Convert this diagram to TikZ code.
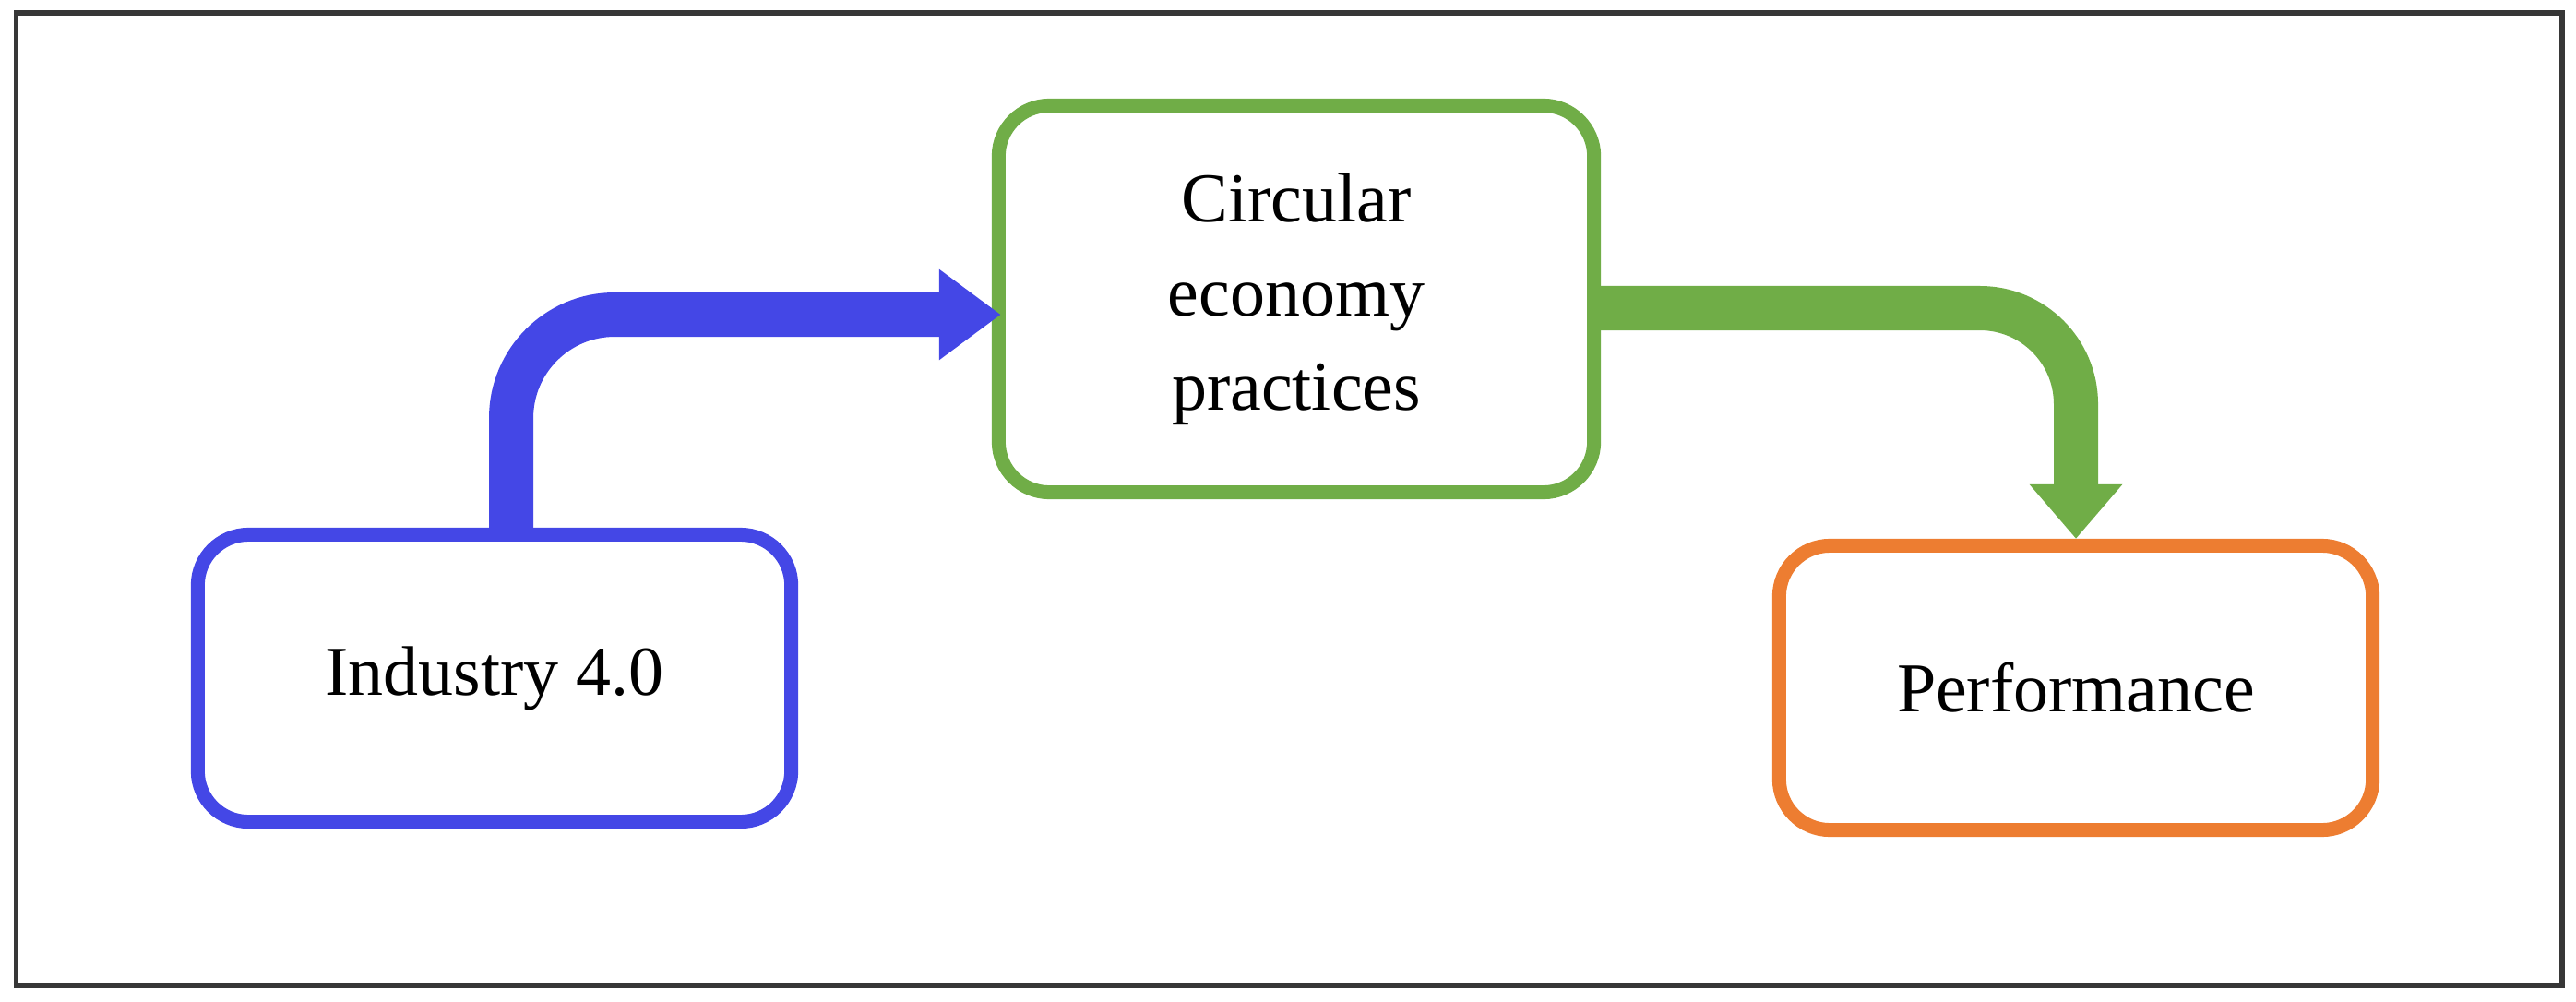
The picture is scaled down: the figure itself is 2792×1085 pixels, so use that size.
\documentclass[tikz,border=0pt]{standalone}
\usepackage{fontspec}
\setmainfont{Liberation Serif}
\usetikzlibrary{arrows.meta}
\definecolor{myblue}{RGB}{68,71,230}
\definecolor{mygreen}{RGB}{112,173,71}
\definecolor{myorange}{RGB}{237,125,49}
\definecolor{frameclr}{RGB}{55,55,55}
\begin{document}
\begin{tikzpicture}[x=0.01cm,y=-0.01cm,
  box/.style={draw, line width=0.15cm, rounded corners=0.55cm, fill=white,
    align=center, inner sep=0pt,
    font=\fontsize{21.6pt}{29pt}\selectfont},
  flowarrow/.style={line width=0.48cm}]
\useasboundingbox (0,0) rectangle (2792,1085);
\draw[frameclr, line width=0.055cm] (17.5,14) rectangle (2777,1068);
\node[box, draw=myblue, minimum width=6.43cm, minimum height=3.11cm] (ind) at (536,735) {Industry 4.0};
\node[box, draw=mygreen, minimum width=6.45cm, minimum height=4.19cm] (cep) at (1405,324) {Circular\\economy\\practices};
\node[box, draw=myorange, minimum width=6.43cm, minimum height=3.08cm] (perf) at (2250,745.5) {Performance};
\draw[flowarrow, myblue, rounded corners=1.12cm, -{Triangle[length=0.67cm, width=0.94cm]}]
  ([xshift=0.18cm]ind.north) |- ([xshift=0.1cm, yshift=-0.17cm]cep.west);
\draw[flowarrow, mygreen, rounded corners=1.04cm, -{Triangle[length=0.59cm, width=0.97cm]}]
  ([yshift=-0.10cm]cep.east) -| (perf.north);
\end{tikzpicture}
\end{document}
